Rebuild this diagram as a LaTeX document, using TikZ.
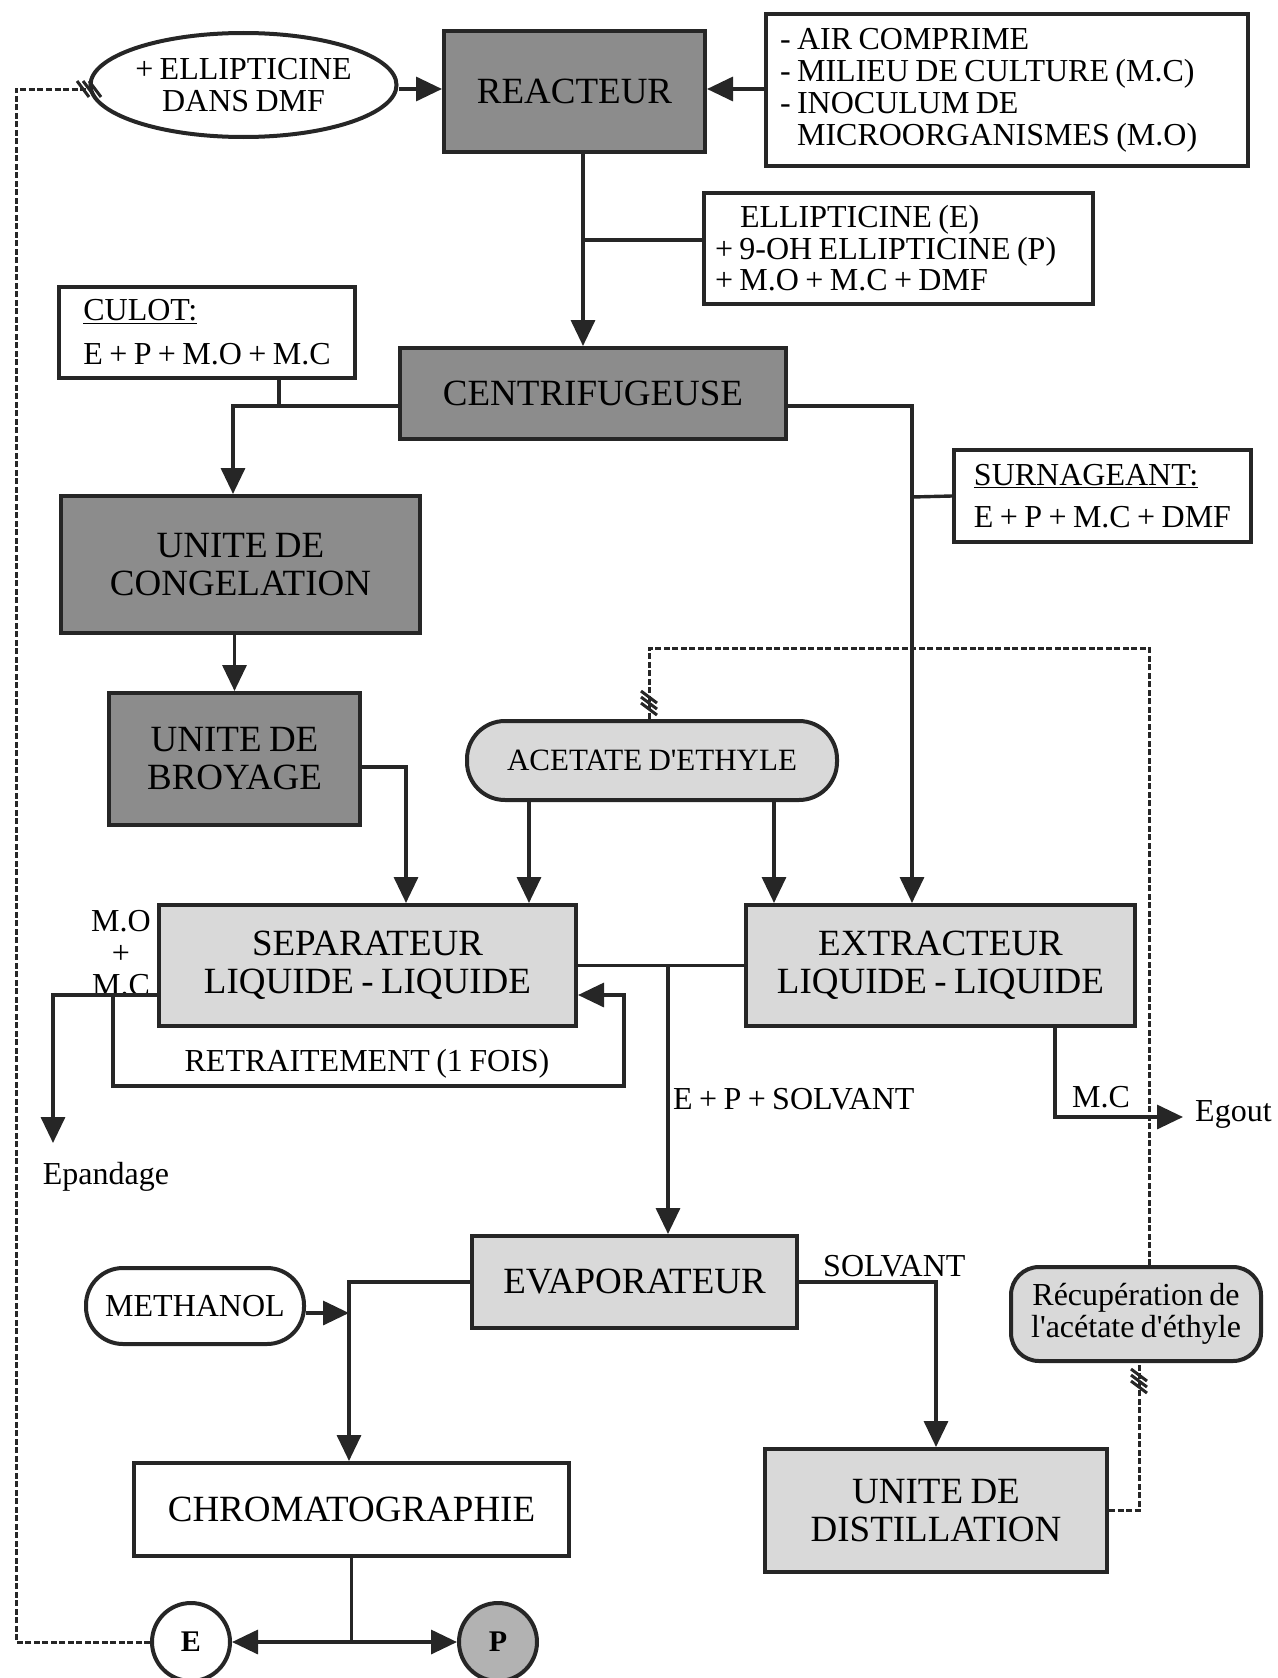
\documentclass[tikz,border=0pt]{standalone}
\usepackage{fontspec}
\setmainfont{Liberation Serif}[WordSpace=0.8, Ligatures=TeXOff]
\usetikzlibrary{arrows.meta,shapes.geometric,calc}
\begin{document}
\begin{tikzpicture}[x=1pt,y=-1pt,
  conn/.style={line width=3.4pt, draw=black!85},
  arr/.style={conn,-{Triangle[length=26pt,width=24pt]}},
  dashline/.style={line width=3pt, draw=black!85, dash pattern=on 6pt off 2.5pt},
  hashst/.style={line width=3pt, draw=black!85},
  box/.style={draw=black!85, line width=4pt, rectangle, inner sep=0pt, align=center, font=\fontsize{37}{38}\selectfont},
  darkbox/.style={box, fill=black!45},
  lightbox/.style={box, fill=black!15},
  txtbox/.style={draw=black!85, line width=4pt, rectangle, inner sep=0pt, font=\fontsize{32}{32}\selectfont},
  lbl/.style={inner sep=0pt, font=\fontsize{32}{32}\selectfont},
  roundnode/.style={circle, draw=black!85, line width=4pt, minimum size=78pt, inner sep=0pt, font=\bfseries\fontsize{30}{30}\selectfont},
]
\useasboundingbox (0,0) rectangle (1277,1678);

% ---------- nodes ----------
\node[ellipse, draw=black!85, line width=4pt, minimum width=279pt, minimum height=104pt, inner sep=0pt, align=center, font=\fontsize{32}{32}\selectfont] (ell) at (243.5,85) {+ ELLIPTICINE\\DANS DMF};
\node[darkbox, minimum width=261pt, minimum height=121pt] (reac) at (574.5,91.5) {REACTEUR};
\node[txtbox, text width=454pt, inner xsep=14pt, minimum height=152pt, align=flush left] (air) at (1007,90) {- AIR COMPRIME\\- MILIEU DE CULTURE (M.C)\\- INOCULUM DE\\\phantom{- }MICROORGANISMES (M.O)};
\node[txtbox, text width=367pt, inner xsep=11pt, minimum height=111pt, align=flush left, font=\fontsize{32}{31.5}\selectfont] (ellbox) at (898.5,248.5) {\hspace*{25pt}ELLIPTICINE (E)\\+ 9-OH ELLIPTICINE (P)\\+ M.O + M.C + DMF};
\node[txtbox, minimum width=296pt, minimum height=91pt, align=left] (culot) at (207,332.5) {\underline{CULOT:}\\[12pt]E + P + M.O + M.C};
\node[darkbox, minimum width=386pt, minimum height=91pt] (centri) at (593,393.5) {CENTRIFUGEUSE};
\node[txtbox, minimum width=297pt, minimum height=92pt, align=left] (surn) at (1102.5,496) {\underline{SURNAGEANT:}\\[10pt]E + P + M.C + DMF};
\node[darkbox, minimum width=359pt, minimum height=137pt] (congel) at (240.5,564.5) {UNITE DE\\CONGELATION};
\node[darkbox, minimum width=251pt, minimum height=132pt] (broy) at (234.5,759) {UNITE DE\\BROYAGE};
\node[lightbox, rounded corners=38pt, minimum width=370pt, minimum height=79pt, font=\fontsize{31}{31}\selectfont] (acet) at (652,760.5) {ACETATE D'ETHYLE};
\node[lightbox, minimum width=417pt, minimum height=121pt] (sep) at (367.5,965.5) {SEPARATEUR\\LIQUIDE - LIQUIDE};
\node[lightbox, minimum width=389pt, minimum height=121pt] (ext) at (940.5,965.5) {EXTRACTEUR\\LIQUIDE - LIQUIDE};
\node[lightbox, minimum width=325pt, minimum height=92pt] (evap) at (634.5,1282) {EVAPORATEUR};
\node[txtbox, rounded corners=37pt, minimum width=218pt, minimum height=76pt, fill=white] (meth) at (195,1306) {METHANOL};
\node[box, fill=white, minimum width=435pt, minimum height=93pt] (chrom) at (351.5,1509.5) {CHROMATOGRAPHIE};
\node[lightbox, minimum width=342pt, minimum height=123pt] (dist) at (936,1510.5) {UNITE DE\\DISTILLATION};
\node[lightbox, rounded corners=28pt, minimum width=250pt, minimum height=94pt, font=\fontsize{32}{32}\selectfont] (recup) at (1136,1314) {Récupération de\\l'acétate d'éthyle};
\node[roundnode, fill=white] (Ec) at (191,1642) {E};
\node[roundnode, fill=black!30] (Pc) at (498,1642) {P};

% ---------- labels ----------
\node[lbl, align=center, font=\fontsize{32}{32}\selectfont] (moc) at (121,953) {M.O\\+\\M.C};
\node[lbl] (epand) at (106,1177) {Epandage};
\node[lbl] (retr) at (367,1064) {RETRAITEMENT (1 FOIS)};
\node[lbl, anchor=west] (eps) at (673,1099) {E + P + SOLVANT};
\node[lbl] (mc) at (1101,1097) {M.C};
\node[lbl, anchor=west] (egout) at (1195,1114) {Egout};
\node[lbl, anchor=west] (solv) at (823,1266) {SOLVANT};

% ---------- coordinates ----------
\coordinate (j1) at (583,240);
\coordinate (cv) at (912,497);
\coordinate (jse) at (668,965.5);
\coordinate (epa) at (53,1143);
\coordinate (r1) at (113,995);
\coordinate (r2) at (624,1086);
\coordinate (egt) at (1183,1117);
\coordinate (jm) at (349,1313);
\coordinate (jc) at (351.5,1642);
\coordinate (dl) at (16,89);
\coordinate (dt) at (649,648);

% ---------- connectors ----------
\draw[arr] (ell.east |- 0,89) -- (reac.west |- 0,89);
\draw[arr] (air.west |- 0,89) -- (reac.east |- 0,89);
\draw[arr] ([xshift=8.5pt]reac.south) -- ([xshift=-10pt]centri.north);
\draw[conn] (j1) -- (j1 -| ellbox.west);
\draw[conn] ([xshift=72pt]culot.south) -- ++(0,28);
\draw[arr] ([yshift=-12.5pt]centri.west) -| ([xshift=-7.5pt]congel.north);
\draw[arr] ([yshift=-12.5pt]centri.east) -| ([xshift=-28.5pt]ext.north);
\draw[conn] (cv) -- (surn.west);
\draw[arr] (congel.south -| broy.north) -- (broy.north);
\draw[arr] ([yshift=-8pt]broy.east) -| ([xshift=38.5pt]sep.north);
\draw[arr] ([xshift=-123pt]acet.south) -- ([xshift=161.5pt]sep.north);
\draw[arr] ([xshift=122pt]acet.south) -- ([xshift=-166.5pt]ext.north);
\draw[conn] (sep.east) -- (ext.west);
\draw[arr] (jse) -- (jse |- evap.north);
\draw[arr] ([yshift=-29.5pt]sep.west) -| (epa);
\draw[arr] (r1) |- (r2) |- ([yshift=-29.5pt]sep.east);
\draw[arr] ([xshift=114.5pt]ext.south) |- (egt);
\draw[arr] (evap.west) -| ([xshift=-2.5pt]chrom.north);
\draw[arr] ([yshift=-7pt]meth.east) -- (jm);
\draw[arr] (evap.east) -| (dist.north);
\draw[conn] (chrom.south) -- (jc);
\draw[arr] (jc) -- (Ec.east);
\draw[arr] (jc) -- (Pc.west);

% ---------- dashed recycling lines ----------
\draw[dashline] (Ec.west) -| (dl) -- (ell.west |- dl);
\draw[dashline] ([xshift=13pt]recup.north) |- (dt) -- ([xshift=-3pt]acet.north);
\draw[dashline] (dist.east) -| ([xshift=3pt]recup.south);

% ---------- hash marks ----------
\foreach \d in {-6,0,6} \draw[hashst] (89+\d-6,89-8) -- (89+\d+6,89+8);
\foreach \d in {-6,0,6} \draw[hashst] (649-8,703+\d-6) -- (649+8,703+\d+6);
\foreach \d in {-6,0,6} \draw[hashst] (1139-8,1381+\d-6) -- (1139+8,1381+\d+6);
\end{tikzpicture}
\end{document}
